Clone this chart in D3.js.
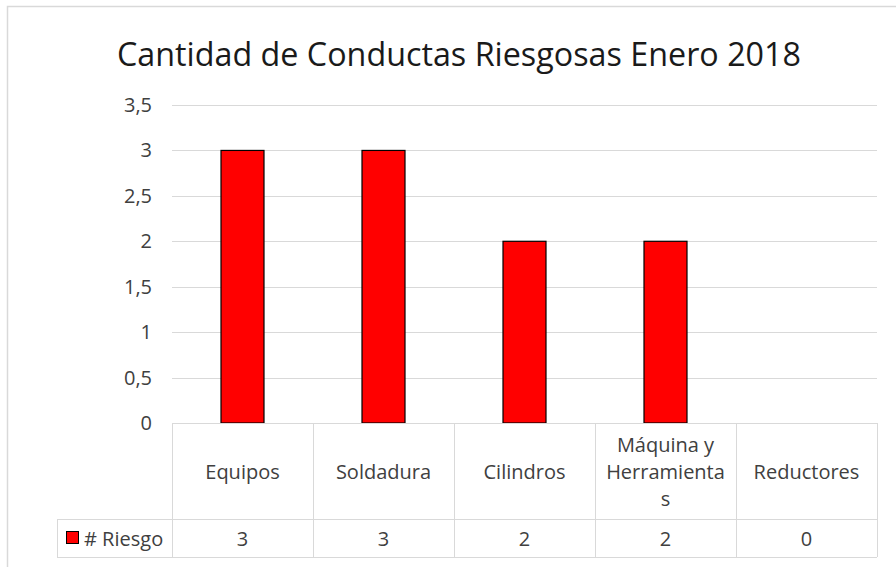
<!DOCTYPE html>
<html><head><meta charset="utf-8">
<script src="https://cdn.jsdelivr.net/npm/d3@7"></script>
<style>body{margin:0;background:#fff}svg{display:block}</style>
</head><body>
<svg id="c" width="896" height="567"></svg>
<script>
const categories = [["Equipos"],["Soldadura"],["Cilindros"],["Máquina y","Herramienta","s"],["Reductores"]];
const values = [3,3,2,2,0];
const seriesName = "# Riesgo";
const yTicks = [0,0.5,1,1.5,2,2.5,3,3.5];
const tickLabels = ["0","0,5","1","1,5","2","2,5","3","3,5"];
const title = "Cantidad de Conductas Riesgosas Enero 2018";

(function(){
const svg = d3.select("#c");
const font = "'Open Sans', sans-serif";
const fs = 20;
const pLeft = 172, pRight = 877, pTop = 105, pBottom = 423;
const x = d3.scaleBand().domain(d3.range(categories.length)).range([pLeft,pRight]).paddingInner(0).paddingOuter(0);
const y = d3.scaleLinear().domain([0,3.5]).range([pBottom,pTop]);

// outer border
svg.append("path").attr("d","M7.5,567 V6.5 H896").attr("fill","none").attr("stroke","#d9d9d9").attr("stroke-width",1.5);

svg.append("text").attr("x",459).attr("y",66).attr("text-anchor","middle")
  .attr("font-family",font).attr("font-size",32).attr("fill","#1a1a1a")
  .attr("textLength",684).attr("lengthAdjust","spacingAndGlyphs").text(title);

// gridlines
svg.append("g").selectAll("line").data(yTicks.slice(1)).join("line")
  .attr("x1",pLeft).attr("x2",pRight).attr("y1",d=>Math.round(y(d))+0.5).attr("y2",d=>Math.round(y(d))+0.5)
  .attr("stroke","#d9d9d9").attr("stroke-width",1);

// y labels
svg.append("g").selectAll("text").data(yTicks).join("text")
  .attr("x",152).attr("y",d=>y(d)+7).attr("text-anchor","end")
  .attr("font-family",font).attr("font-size",fs).attr("fill","#404040")
  .text((d,i)=>tickLabels[i]);

// bars
const bw = 43;
svg.append("g").selectAll("rect").data(values).join("rect")
  .attr("x",(d,i)=>x(i)+x.bandwidth()/2-bw/2).attr("width",bw)
  .attr("y",d=>y(d)).attr("height",d=>pBottom-y(d))
  .attr("fill","#ff0000").attr("stroke","#000").attr("stroke-width",1.2)
  .attr("display",d=>d>0?null:"none");

// data table
const rowTop = pBottom, rowMid = 519, rowBot = 557, legLeft = 57;
const g = svg.append("g").attr("stroke","#d9d9d9").attr("stroke-width",1);
g.append("line").attr("x1",pLeft).attr("x2",pRight).attr("y1",rowTop+0.5).attr("y2",rowTop+0.5);
g.append("line").attr("x1",legLeft).attr("x2",pRight).attr("y1",rowMid+0.5).attr("y2",rowMid+0.5);
g.append("line").attr("x1",legLeft).attr("x2",pRight).attr("y1",rowBot+0.5).attr("y2",rowBot+0.5);
g.append("line").attr("x1",legLeft+0.5).attr("x2",legLeft+0.5).attr("y1",rowMid).attr("y2",rowBot);
g.selectAll(".v").data(d3.range(categories.length+1)).join("line")
  .attr("x1",i=>Math.round(pLeft+i*x.step())+0.5).attr("x2",i=>Math.round(pLeft+i*x.step())+0.5)
  .attr("y1",rowTop).attr("y2",rowBot);

// category labels
const cl = svg.append("g").attr("font-family",font).attr("font-size",fs).attr("fill","#404040").attr("text-anchor","middle");
categories.forEach((lines,i)=>{
  const cx = x(i)+x.bandwidth()/2;
  const lh = 27, cy = (rowTop+rowMid)/2;
  lines.forEach((t,j)=>{
    cl.append("text").attr("x",cx).attr("y",cy+(j-(lines.length-1)/2)*lh+8).text(t);
  });
});
// values row
svg.append("g").selectAll("text").data(values).join("text")
  .attr("x",(d,i)=>x(i)+x.bandwidth()/2).attr("y",(rowMid+rowBot)/2+8)
  .attr("text-anchor","middle").attr("font-family",font).attr("font-size",fs).attr("fill","#404040").text(d=>d);
// legend
svg.append("rect").attr("x",66.5).attr("y",531.5).attr("width",12).attr("height",12).attr("fill","#ff0000").attr("stroke","#000").attr("stroke-width",1);
svg.append("text").attr("x",84).attr("y",(rowMid+rowBot)/2+8).attr("font-family",font).attr("font-size",fs).attr("fill","#404040").text(seriesName);
})();
</script>
</body></html>
